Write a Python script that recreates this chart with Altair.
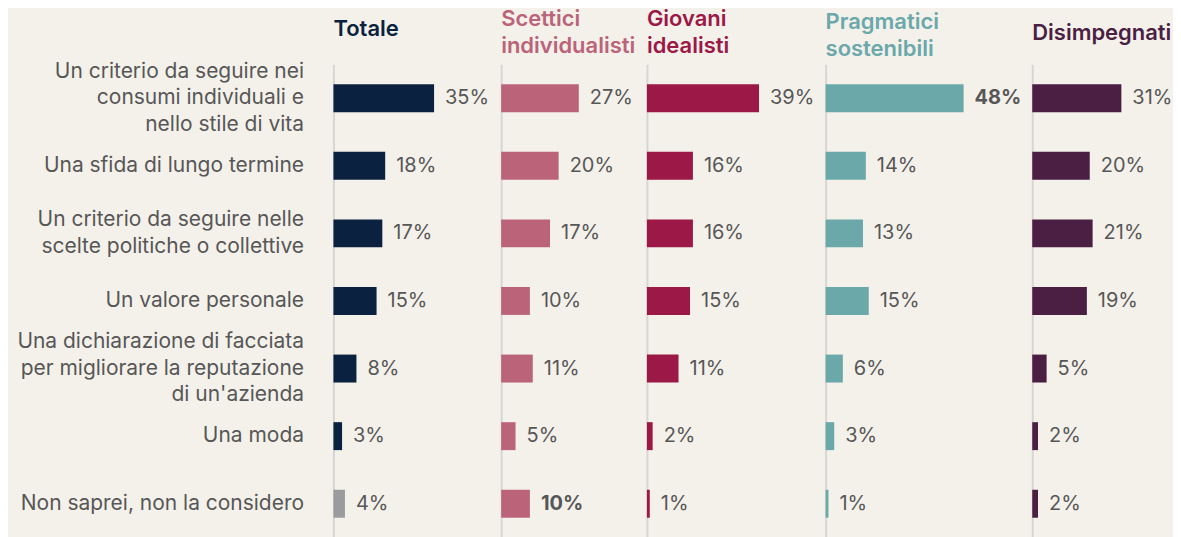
import altair as alt
import pandas as pd

categorie = [
    "Un criterio da seguire nei\nconsumi individuali e\nnello stile di vita",
    "Una sfida di lungo termine",
    "Un criterio da seguire nelle\nscelte politiche o collettive",
    "Un valore personale",
    "Una dichiarazione di facciata\nper migliorare la reputazione\ndi un'azienda",
    "Una moda",
    "Non saprei, non la considero",
]

gruppi = ["Totale", "Scettici individualisti", "Giovani idealisti",
          "Pragmatici sostenibili", "Disimpegnati"]
titoli = [["Totale"], ["Scettici", "individualisti"], ["Giovani", "idealisti"],
          ["Pragmatici", "sostenibili"], ["Disimpegnati"]]

totale = [35, 18, 17, 15, 8, 3, 4]
scettici = [27, 20, 17, 10, 11, 5, 10]
giovani = [39, 16, 16, 15, 11, 2, 1]
pragmatici = [48, 14, 13, 15, 6, 3, 1]
disimpegnati = [31, 20, 21, 19, 5, 2, 2]

valori = [totale, scettici, giovani, pragmatici, disimpegnati]

# label bold flags
grassetto = [
    [0, 0, 0, 0, 0, 0, 0],
    [0, 0, 0, 0, 0, 0, 1],
    [0, 0, 0, 0, 0, 0, 0],
    [1, 0, 0, 0, 0, 0, 0],
    [0, 0, 0, 0, 0, 0, 0],
]
# "non so" grey bar only in Totale
grigio = [
    [0, 0, 0, 0, 0, 0, 1],
    [0] * 7, [0] * 7, [0] * 7, [0] * 7,
]

colori = ["#0a2240", "#bb6479", "#9c1846", "#6aa8aa", "#4b1e44"]
larghezze = [168, 146, 179, 207, 141]
title_offsets = [-3, -16, -16, -19, -3]
PX_PER_PCT = 2.88
H = 474
FONT = "Inter"
TXT = "#575757"
BG = "#f4f1eb"
AXC = "#d8d6d2"
LH = 26.5

pannelli = []
for i, g in enumerate(gruppi):
    df = pd.DataFrame({
        "cat": categorie,
        "val": valori[i],
        "bold": grassetto[i],
        "nd": grigio[i],
    })
    df["lab"] = df["val"].astype(str) + "%"
    base = alt.Chart(df)
    if i == 0:
        yax = alt.Axis(
            title=None, labelExpr="split(datum.label, '\\n')",
            labelFont=FONT, labelFontSize=21, labelColor=TXT,
            labelLineHeight=LH, labelPadding=30, ticks=False,
            domainColor=AXC, domainWidth=2, labelLimit=400,
            labelOffset={
                "condition": [
                    {"test": "length(split(datum.label, '\\n')) == 3", "value": -LH},
                    {"test": "length(split(datum.label, '\\n')) == 2", "value": -LH / 2},
                ],
                "value": 0,
            },
        )
    else:
        yax = alt.Axis(title=None, labels=False, ticks=False,
                       domainColor=AXC, domainWidth=2)
    y = alt.Y("cat:N", sort=categorie, axis=yax,
              scale=alt.Scale(paddingInner=0, paddingOuter=0))
    x = alt.X("val:Q", axis=None,
              scale=alt.Scale(domain=[0, larghezze[i] / PX_PER_PCT], nice=False, zero=True))
    bars = base.mark_bar(size=28).encode(
        x=x, y=y,
        color=alt.condition("datum.nd == 1", alt.value("#999b9e"), alt.value(colori[i])),
    )
    txt_n = base.transform_filter("datum.bold == 0").mark_text(
        align="left", baseline="middle", dx=11, font=FONT, fontSize=20, color=TXT
    ).encode(x=x, y=y, text="lab:N")
    txt_b = base.transform_filter("datum.bold == 1").mark_text(
        align="left", baseline="middle", dx=11, font=FONT, fontSize=20, color=TXT,
        fontWeight="bold"
    ).encode(x=x, y=y, text="lab:N")
    pan = alt.layer(bars, txt_n, txt_b).properties(
        width=larghezze[i], height=H,
        title=alt.TitleParams(
            text=titoli[i], anchor="start", frame="group", color=colori[i],
            font=FONT, fontSize=22, fontWeight=600, lineHeight=27,
            baseline="bottom", offset=title_offsets[i],
        ),
    )
    pannelli.append(pan)

chart = alt.hconcat(*pannelli, spacing=0, bounds="flush").resolve_scale(
    x="independent"
).properties(
    background=BG, padding={"left": 8, "top": 0, "right": 0, "bottom": 0}
).configure_view(stroke=None)

chart.save("out.html", embed_options={"renderer": "svg", "actions": False})
